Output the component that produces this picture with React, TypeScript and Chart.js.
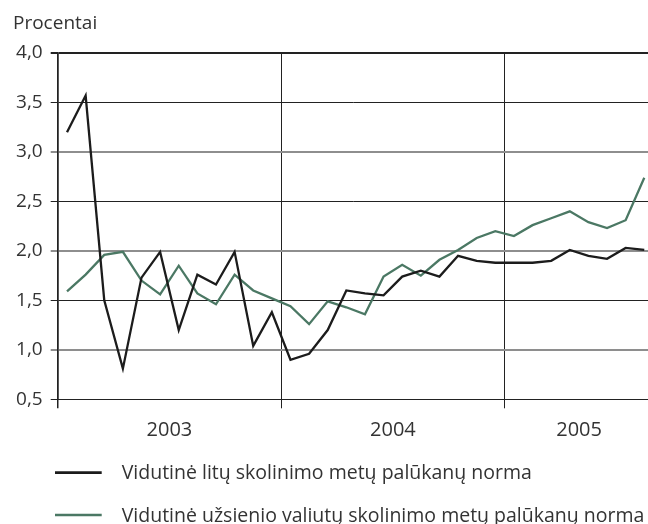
import React, { useEffect, useRef } from 'react';
import { Chart, registerables } from 'chart.js';

Chart.register(...registerables);

// Monthly observations, January 2003 – August 2005
const months: string[] = [
  '2003-01', '2003-02', '2003-03', '2003-04', '2003-05', '2003-06',
  '2003-07', '2003-08', '2003-09', '2003-10', '2003-11', '2003-12',
  '2004-01', '2004-02', '2004-03', '2004-04', '2004-05', '2004-06',
  '2004-07', '2004-08', '2004-09', '2004-10', '2004-11', '2004-12',
  '2005-01', '2005-02', '2005-03', '2005-04', '2005-05', '2005-06',
  '2005-07', '2005-08',
];

const litaiRate: number[] = [
  3.2, 3.57, 1.5, 0.81, 1.73, 1.99, 1.2, 1.76, 1.66, 1.99, 1.04, 1.38,
  0.9, 0.96, 1.2, 1.6, 1.57, 1.55, 1.74, 1.8, 1.74, 1.95, 1.9, 1.88,
  1.88, 1.88, 1.9, 2.01, 1.95, 1.92, 2.03, 2.01,
];

const foreignRate: number[] = [
  1.59, 1.76, 1.96, 1.99, 1.7, 1.56, 1.85, 1.57, 1.46, 1.76, 1.6, 1.52,
  1.44, 1.26, 1.49, 1.43, 1.36, 1.74, 1.86, 1.75, 1.91, 2.01, 2.13, 2.2,
  2.15, 2.26, 2.33, 2.4, 2.29, 2.23, 2.31, 2.74,
];

const years: string[] = ['2003', '2004', '2005'];
const yTicks: number[] = [0.5, 1.0, 1.5, 2.0, 2.5, 3.0, 3.5, 4.0];

const seriesLabels: string[] = [
  'Vidutinė litų skolinimo metų palūkanų norma',
  'Vidutinė užsienio valiutų skolinimo metų palūkanų norma',
];
const yTitle = 'Procentai';

const FONT = '"Open Sans", "Noto Sans", sans-serif';
const TEXT = '#333333';
const DARK = '#222222';
const GREY = '#8e8e8e';

const yearStart = (i: number) => i * 12;
const yearCenter = (i: number) => {
  const s = yearStart(i);
  const e = Math.min(s + 12, months.length);
  return (s + e) / 2;
};

const legendPlugin = {
  id: 'rowLegend',
  afterDraw(chart: any) {
    const ctx = chart.ctx;
    chart.data.datasets.forEach((ds: any, i: number) => {
      const y = 472.7 + i * 42.3;
      ctx.save();
      ctx.strokeStyle = ds.borderColor;
      ctx.lineWidth = 2.7;
      ctx.beginPath();
      ctx.moveTo(55, y);
      ctx.lineTo(101.7, y);
      ctx.stroke();
      ctx.fillStyle = TEXT;
      ctx.font = `19.5px ${FONT}`;
      ctx.textBaseline = 'middle';
      ctx.textAlign = 'left';
      ctx.fillText(ds.label, 121.7, y + 1);
      ctx.restore();
    });
  },
};

export default function App() {
  const canvasRef = useRef<HTMLCanvasElement | null>(null);

  useEffect(() => {
    document.body.style.margin = '0';
    const canvas = canvasRef.current;
    if (!canvas) return;

    const toPoints = (arr: number[]) => arr.map((v, i) => ({ x: i + 0.5, y: v }));

    const chart = new Chart(canvas, {
      type: 'line',
      data: {
        datasets: [
          {
            label: seriesLabels[0],
            data: toPoints(litaiRate),
            borderColor: '#1c1c1c',
            borderWidth: 2.3,
            pointRadius: 0,
            tension: 0,
          },
          {
            label: seriesLabels[1],
            data: toPoints(foreignRate),
            borderColor: '#4b7864',
            borderWidth: 2.3,
            pointRadius: 0,
            tension: 0,
          },
        ],
      },
      options: {
        animation: false,
        responsive: false,
        devicePixelRatio: 1,
        layout: { padding: { left: 13, right: 0, top: 0, bottom: 74.7 } },
        plugins: {
          legend: { display: false },
          tooltip: { enabled: false },
          title: {
            display: true,
            text: yTitle,
            align: 'start',
            color: TEXT,
            font: { family: FONT, size: 19, weight: 'normal', lineHeight: 1.2 },
            padding: { top: 12.5, bottom: 17.7 },
          },
        },
        scales: {
          x: {
            type: 'linear',
            min: 0,
            max: 31.7,
            afterBuildTicks: (scale: any) => {
              const t: any[] = [];
              years.forEach((_, i) => {
                t.push({ value: yearStart(i) });
                t.push({ value: yearCenter(i) });
              });
              scale.ticks = t;
            },
            afterFit: (scale: any) => {
              scale.height = 50;
            },
            ticks: {
              autoSkip: false,
              maxRotation: 0,
              color: TEXT,
              padding: 10.3,
              font: { family: FONT, size: 20 },
              callback: (value: any) => {
                const idx = years.findIndex((_, i) => Math.abs(yearCenter(i) - value) < 1e-6);
                return idx >= 0 ? years[idx] : '';
              },
            },
            grid: {
              drawOnChartArea: true,
              tickLength: 9,
              color: (c: any) => {
                const v = c.tick?.value;
                return years.some((_, i) => yearStart(i) === v) ? DARK : 'rgba(0,0,0,0)';
              },
              lineWidth: (c: any) => (c.tick?.value === 0 ? 1.5 : 1),
            },
            border: { display: true, color: DARK, width: 1 },
          },
          y: {
            min: 0.5,
            max: 4,
            afterBuildTicks: (scale: any) => {
              scale.ticks = yTicks.map((v) => ({ value: v }));
            },
            afterFit: (scale: any) => {
              scale.width = 44.7;
            },
            ticks: {
              color: TEXT,
              padding: 8,
              font: { family: FONT, size: 19 },
              callback: (value: any) => Number(value).toFixed(1).replace('.', ','),
            },
            grid: {
              tickLength: 7,
              color: (c: any) => {
                const v = c.tick?.value;
                if (v === 4) return DARK;
                return Number.isInteger(v) ? GREY : DARK;
              },
              lineWidth: (c: any) => {
                const v = c.tick?.value;
                if (v === 4) return 2;
                return Number.isInteger(v) ? 2 : 1;
              },
            },
            border: { display: true, color: DARK, width: 1.5 },
          },
        },
      },
      plugins: [legendPlugin],
    } as any);

    return () => chart.destroy();
  }, []);

  return (
    <div style={{ width: 648, height: 524 }}>
      <canvas ref={canvasRef} width={648} height={524} style={{ width: 648, height: 524, display: 'block' }} />
    </div>
  );
}
